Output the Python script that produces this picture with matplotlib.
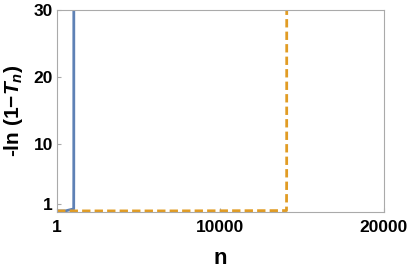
import matplotlib
matplotlib.use("Agg")
import matplotlib.pyplot as plt

# blue (solid) curve: flat near 0 then shoots up around n ~ 1000
n_blue = [1, 500, 1015, 1020, 1022]
y_blue = [0.0, 0.0, 0.3, 5, 40]
# orange (dashed) curve: flat near 0 then shoots up around n ~ 14000
n_orange = [1, 7000, 14040, 14050, 14055]
y_orange = [0.0, 0.0, 0.05, 5, 40]

xticks = [1, 10000, 20000]
yticks = [1, 10, 20, 30]

plt.rcParams['font.family'] = ['Liberation Sans', 'DejaVu Sans']
plt.rcParams['mathtext.fontset'] = 'custom'
plt.rcParams['mathtext.rm'] = 'Liberation Sans:bold'
plt.rcParams['mathtext.it'] = 'Liberation Sans:bold:italic'
plt.rcParams['mathtext.bf'] = 'Liberation Sans:bold'

fig = plt.figure(figsize=(4.11, 2.71), dpi=100)
ax = fig.add_axes([0.139, 0.218, 0.795, 0.745])

ax.plot(n_blue, y_blue, color='#5e81b5', lw=2)
ax.plot(n_orange, y_orange, color='#e19c24', lw=2, ls=(0, (3, 1.5)))

ax.set_xlim(1, 20000)
ax.set_ylim(-0.15, 30)
ax.set_xticks(xticks)
ax.set_yticks(yticks)
ax.set_xticklabels([str(t) for t in xticks], fontsize=12.5, fontweight='bold')
ax.set_yticklabels([str(t) for t in yticks], fontsize=12.5, fontweight='bold')
ax.tick_params(direction='in', length=3, color='#aaaaaa', width=0.8)
ax.tick_params(axis='x', pad=6)
ax.tick_params(axis='y', pad=3)

for s in ax.spines.values():
    s.set_color('#aaaaaa')
    s.set_linewidth(0.8)

ax.set_xlabel('n', fontsize=16, fontweight='bold', labelpad=9)
ax.set_ylabel(r'-ln (1$-$$T_n$)', fontsize=15, fontweight='bold', labelpad=6)

fig.savefig('out.png', dpi=100)
